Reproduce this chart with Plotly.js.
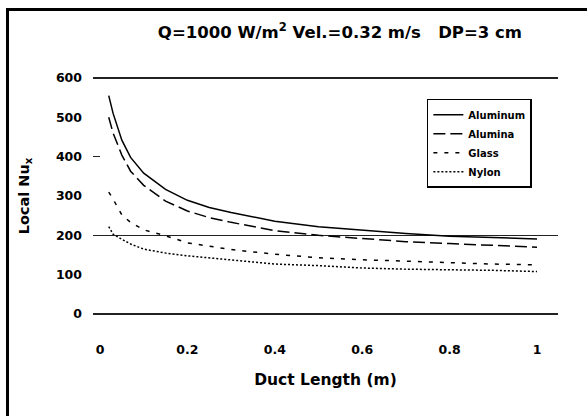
<!DOCTYPE html>
<html>
<head>
<meta charset="utf-8">
<script src="https://cdn.plot.ly/plotly-3.0.1.min.js"></script>
<style>
  html, body { margin: 0; padding: 0; background: #fff; overflow: hidden; }
  #wrap { position: relative; width: 587px; height: 416px; }
  #chart { position: absolute; left: 0; top: 0; width: 587px; height: 416px; }
  #frame { position: absolute; left: 6px; top: 8px; width: 640px; height: 460px;
           border: 3px solid #000; pointer-events: none; }
</style>
</head>
<body>
<div id="wrap">
  <div id="chart"></div>
  <div id="frame"></div>
</div>
<script>
// Duct length positions (m)
const ductLength = [0.02, 0.03, 0.05, 0.07, 0.1, 0.15, 0.2, 0.25, 0.3, 0.4, 0.5, 0.6, 0.7, 0.8, 0.9, 1.0];
// Local Nu_x for each duct material
const aluminum = [555, 510, 442, 398, 358, 317, 289, 271, 258, 236, 222, 213, 205, 198, 194, 191];
const alumina  = [500, 460, 404, 363, 327, 287, 262, 245, 233, 212, 200, 192, 184, 179, 174, 170];
const glass    = [310, 292, 252, 233, 214, 199, 181, 172, 164, 152, 143, 138, 134, 130, 127, 125];
const nylon    = [222, 203, 190, 178, 165, 155, 148, 143, 137, 127, 123, 117, 114, 113, 111, 108];
const seriesNames = ["Aluminum", "Alumina", "Glass", "Nylon"];
// Axis ticks
const xTicks = [0, 0.2, 0.4, 0.6, 0.8, 1];
const xTickText = ["0", "0.2", "0.4", "0.6", "0.8", "1"];
const yTicks = [0, 100, 200, 300, 400, 500, 600];
const yTickMarks = [0, 200, 400, 600];
const yGridLines = [0, 200, 600];

const FONT = "DejaVu Sans, Verdana, sans-serif";
const dashes = ["solid", "12px,5px", "4px,7px", "2px,2px"];
const values = [aluminum, alumina, glass, nylon];

const traces = values.map((v, i) => ({
  x: ductLength, y: v, name: seriesNames[i], type: "scatter", mode: "lines",
  line: { color: "#000", width: 1.5, dash: dashes[i] },
  xaxis: "x", yaxis: "y"
}));
// invisible helper traces so the overlay axes (tick marks / gridlines) are drawn
traces.push({ x: [0], y: [0], yaxis: "y2", mode: "markers", marker: {opacity: 0}, showlegend: false, hoverinfo: "skip" });
traces.push({ x: [0], y: [0], yaxis: "y3", mode: "markers", marker: {opacity: 0}, showlegend: false, hoverinfo: "skip" });

const tickFont = { family: FONT, size: 12.5, color: "#000", weight: "bold" };
const yRange = [-5, 605];

const layout = {
  width: 587, height: 416,
  margin: { l: 93, r: 29, t: 76.03, b: 100.03, pad: 0 },
  paper_bgcolor: "#fff", plot_bgcolor: "#fff",
  showlegend: true,
  title: {
    text: "Q=1000 W/m<sup>2</sup> Vel.=0.32 m/s&nbsp;&nbsp;&nbsp;DP=3 cm",
    font: { family: FONT, size: 16.5, color: "#000", weight: "bold" },
    x: 0.531, xanchor: "center", xref: "paper",
    y: 0.922, yanchor: "middle", yref: "container"
  },
  xaxis: {
    range: [-0.016, 1.048], tickvals: xTicks, ticktext: xTickText,
    showgrid: false, zeroline: false, showline: false, ticks: "",
    tickfont: tickFont, ticklabelstandoff: 24,
    title: { text: "Duct Length (m)", font: { family: FONT, size: 15.5, color: "#000", weight: "bold" }, standoff: 18 }
  },
  yaxis: {
    range: yRange, tickvals: yTicks, showgrid: false, zeroline: false, showline: false, ticks: "",
    tickfont: tickFont, ticklabelstandoff: 10,
    title: { text: "Local Nu<sub>x</sub>", font: { family: FONT, size: 14.5, color: "#000", weight: "bold" }, standoff: 22 }
  },
  yaxis2: {
    range: yRange, overlaying: "y", tickvals: yTickMarks, showticklabels: false,
    ticks: "inside", ticklen: 7, tickwidth: 1.5, tickcolor: "#222",
    showgrid: false, zeroline: false, showline: false
  },
  yaxis3: {
    range: yRange, overlaying: "y", tickvals: yGridLines, showticklabels: false, ticks: "",
    showgrid: true, gridcolor: "#222", gridwidth: 1.5, zeroline: false, showline: false
  },
  legend: {
    x: 0.718, y: 0.905, xanchor: "left", yanchor: "top",
    bgcolor: "#fff", bordercolor: "#000", borderwidth: 1.5,
    font: { family: FONT, size: 10, color: "#000", weight: "bold" },
    tracegroupgap: 0, itemwidth: 30
  }
};

Plotly.newPlot("chart", traces, layout, { staticPlot: true, displayModeBar: false });
</script>
</body>
</html>
